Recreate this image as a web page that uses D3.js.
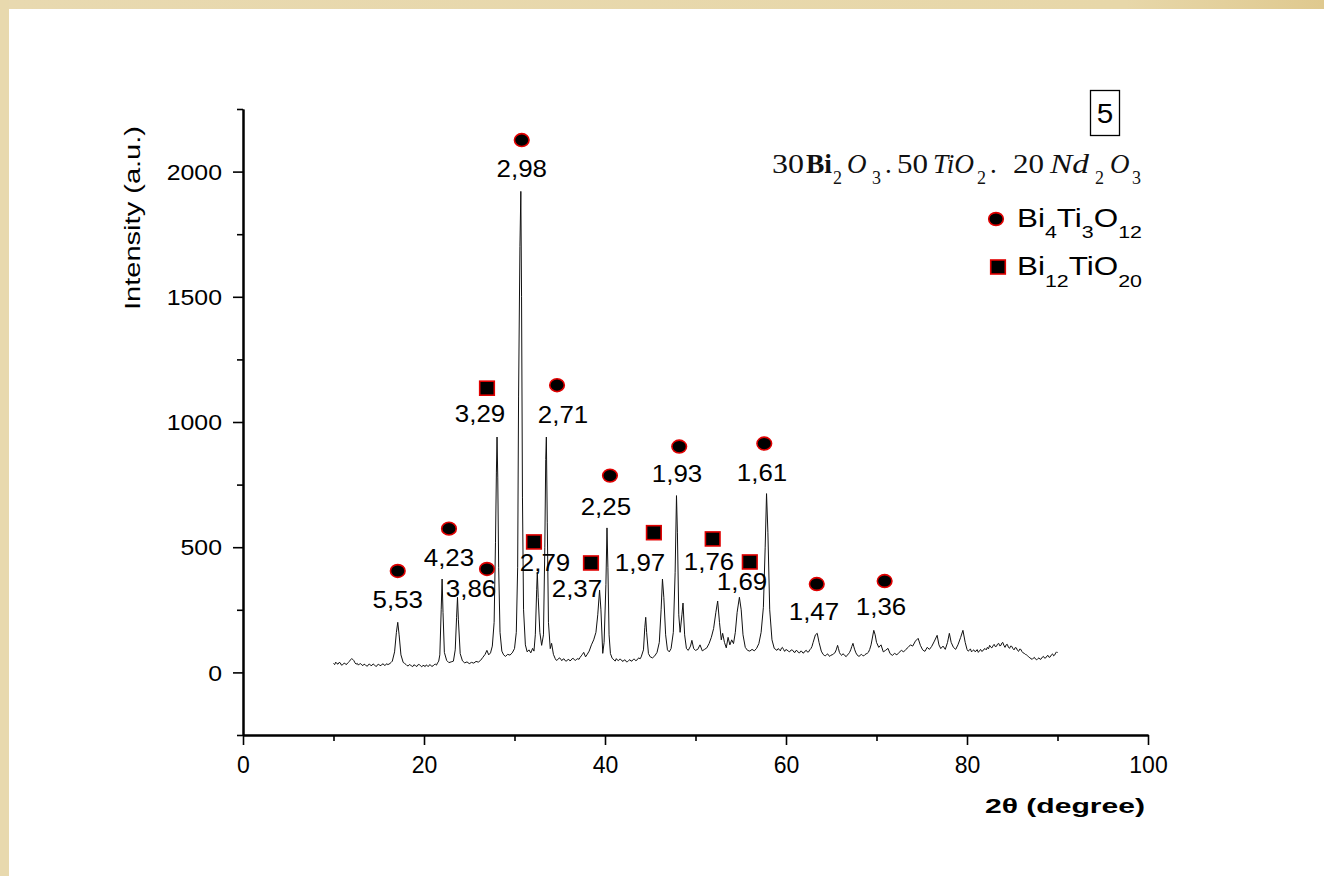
<!DOCTYPE html>
<html>
<head>
<meta charset="utf-8">
<script src="https://cdn.jsdelivr.net/npm/d3@7"></script>
<style>
  html, body { margin: 0; padding: 0; background: #ffffff; }
  svg { display: block; font-family: "Liberation Sans", Arial, sans-serif; }
</style>
</head>
<body>
<svg id="chart" width="1324" height="876"></svg>
<script>
// XRD pattern of the 30Bi2O3·50TiO2·20Nd2O3 sample: [2θ (deg), intensity (a.u.)]
const pattern = [
  [10.000,36],[10.125,31],[10.250,41],[10.375,35],[10.500,33],[10.625,40],[10.750,38],[10.875,29],
  [11.000,30],[11.125,36],[11.250,37],[11.375,31],[11.500,34],[11.625,39],[11.750,44],[11.875,50],
  [12.000,55],[12.125,52],[12.250,47],[12.375,38],[12.500,33],[12.625,36],[12.750,29],[12.875,34],
  [13.000,35],[13.125,30],[13.250,27],[13.375,33],[13.500,31],[13.625,26],[13.750,25],[13.875,32],
  [14.000,33],[14.125,27],[14.250,28],[14.375,34],[14.500,30],[14.625,26],[14.750,24],[14.875,31],
  [15.000,32],[15.125,28],[15.250,27],[15.375,33],[15.500,34],[15.625,28],[15.750,29],[15.875,35],
  [16.000,31],[16.125,33],[16.250,36],[16.375,40],[16.500,45],[16.750,82],[16.950,160],[17.100,200],
  [17.250,150],[17.450,70],[17.700,40],[17.850,36],
  [18.000,32],[18.125,27],[18.250,26],[18.375,31],[18.500,30],[18.625,25],[18.750,23],[18.875,30],
  [19.000,29],[19.125,24],[19.250,25],[19.375,32],[19.500,31],[19.625,26],[19.750,22],[19.875,28],
  [20.000,27],[20.125,23],[20.250,30],[20.375,26],[20.500,24],[20.625,31],[20.750,28],[20.875,24],
  [21.000,26],[21.125,31],[21.250,33],[21.375,29],[21.500,38],[21.625,45],
  [21.750,70],[21.900,250],[22.000,373],[22.100,240],[22.250,80],[22.500,48],[22.750,39],[23.000,42],
  [23.250,45],[23.450,90],[23.600,220],[23.700,300],[23.800,210],[24.000,75],[24.250,46],[24.500,38],
  [24.750,42],[25.000,35],[25.250,40],[25.500,37],[25.750,44],[26.000,41],[26.250,48],[26.500,60],
  [26.750,72],[26.950,88],[27.150,70],[27.350,78],[27.550,105],[27.750,200],[27.900,520],[28.000,800],
  [28.070,940],[28.150,780],[28.250,420],[28.400,160],[28.600,85],[28.800,70],[29.000,64],[29.250,72],
  [29.500,69],[29.750,78],[30.000,95],[30.200,160],[30.350,420],[30.450,1100],[30.600,1700],[30.700,1921],
  [30.780,1500],[30.880,700],[31.000,250],[31.200,110],[31.400,82],[31.600,90],[31.800,78],[32.000,96],
  [32.150,85],[32.300,150],[32.450,330],[32.520,401],[32.620,300],[32.800,160],[33.000,108],[33.200,150],
  [33.350,500],[33.450,850],[33.520,940],[33.620,600],[33.750,200],[33.950,95],[34.100,116],[34.300,72],
  [34.500,55],[34.625,48],[34.750,50],[34.875,56],[35.000,58],[35.125,51],[35.250,47],[35.375,54],
  [35.500,53],[35.625,46],[35.750,45],[35.875,51],[36.000,52],[36.125,46],[36.250,49],[36.375,55],
  [36.500,56],[36.625,50],[36.750,48],[36.875,53],[37.000,55],[37.125,52],[37.250,60],[37.375,66],
  [37.500,72],[37.650,80],[37.850,62],[38.000,70],
  [38.250,85],[38.500,110],[38.750,130],[39.000,160],[39.200,230],[39.400,329],[39.550,250],[39.750,76],
  [39.900,120],[40.100,350],[40.220,577],[40.320,420],[40.450,150],[40.600,75],[40.800,56],
  [41.000,50],[41.125,45],[41.250,55],[41.375,49],[41.500,47],[41.625,53],[41.750,52],[41.875,46],
  [42.000,44],[42.125,50],[42.250,49],[42.375,42],[42.500,43],[42.625,48],[42.750,51],[42.875,45],
  [43.000,46],[43.125,52],[43.250,53],[43.375,47],[43.500,48],[43.625,55],[43.750,58],[43.875,54],
  [44.000,62],[44.250,90],[44.400,180],[44.500,220],[44.600,160],
  [44.800,75],[45.000,62],[45.250,58],[45.500,66],[45.750,80],[46.000,120],[46.200,250],[46.350,373],
  [46.500,300],[46.700,150],[46.900,90],[47.100,82],[47.300,95],[47.550,160],[47.750,400],[47.900,706],
  [48.000,560],[48.150,230],[48.300,160],[48.500,230],[48.620,277],[48.800,150],[49.000,95],[49.200,88],
  [49.450,105],[49.600,128],[49.800,95],[50.000,88],[50.250,92],[50.500,110],[50.750,86],[51.000,92],
  [51.250,98],[51.500,115],[51.750,140],[52.000,175],[52.250,240],[52.450,285],[52.650,200],[52.850,130],
  [53.000,156],[53.200,120],[53.400,98],[53.600,140],[53.800,110],[54.000,130],[54.200,115],[54.400,160],
  [54.600,240],[54.850,300],[55.050,250],[55.250,150],[55.500,100],[55.750,88],[56.000,85],[56.250,92],
  [56.500,86],[56.750,96],[57.000,115],[57.250,160],[57.500,260],[57.700,500],[57.850,714],[58.000,560],
  [58.200,250],[58.450,130],[58.700,96],
  [59.000,88],[59.125,95],[59.250,92],[59.375,86],[59.500,97],[59.600,100],[59.725,92],[59.850,84],
  [59.975,91],[60.100,90],[60.250,85],[60.400,82],[60.575,90],[60.750,88],[60.875,81],[61.000,80],
  [61.125,88],[61.250,86],[61.375,79],[61.500,78],[61.625,85],[61.750,84],[61.875,77],[62.000,79],
  [62.125,86],[62.250,88],[62.375,81],[62.500,82],[62.625,90],[62.750,95],[62.875,104],
  [63.000,120],[63.250,150],[63.450,156],[63.650,120],[63.900,85],
  [64.100,72],[64.225,68],[64.350,66],[64.475,71],[64.600,74],[64.725,67],[64.850,64],[64.975,69],
  [65.100,70],[65.250,74],[65.400,78],[65.550,90],[65.700,108],[65.800,95],[65.900,80],[66.025,72],
  [66.150,68],[66.275,74],[66.400,72],[66.525,66],[66.650,63],[66.775,69],[66.900,74],[67.025,80],
  [67.150,90],[67.275,104],[67.400,116],[67.500,102],[67.600,90],[67.725,78],[67.850,70],[67.975,66],
  [68.100,64],[68.225,70],[68.350,72],[68.475,67],[68.600,66],[68.725,71],[68.850,74],[68.975,76],
  [69.100,80],[69.250,92],[69.400,110],[69.700,168],[69.850,150],[70.000,120],
  [70.250,100],[70.500,110],[70.750,82],[71.000,88],[71.270,96],[71.500,75],[71.750,68],[72.000,76],
  [72.250,70],[72.500,80],[72.750,88],[73.000,82],[73.250,92],[73.500,100],[73.750,110],[74.000,105],
  [74.300,125],[74.600,136],[74.850,108],[75.100,90],[75.350,84],[75.600,100],[75.850,92],[76.100,104],
  [76.400,125],[76.700,148],[76.900,110],[77.100,95],[77.350,105],[77.600,92],[77.850,120],[78.050,156],
  [78.250,120],[78.500,100],[78.750,92],[79.000,110],[79.300,140],[79.550,168],[79.800,120],
  [80.000,92],[80.125,85],[80.250,88],[80.375,94],[80.500,82],[80.625,87],[80.750,90],[80.875,83],
  [81.000,85],[81.125,91],[81.250,80],[81.375,86],[81.500,92],[81.625,84],[81.750,86],[81.875,93],
  [82.000,95],[82.125,90],[82.250,100],[82.375,94],[82.500,108],[82.625,101],[82.750,98],[82.875,106],
  [83.000,112],[83.125,103],[83.250,104],[83.375,113],[83.500,116],[83.625,106],[83.750,108],[83.850,117],
  [83.950,120],[84.075,108],[84.200,100],[84.325,110],[84.450,112],[84.575,101],[84.700,96],[84.825,105],
  [84.950,104],[85.075,95],[85.200,90],[85.325,99],[85.450,98],[85.575,88],[85.700,84],[85.825,93],
  [85.950,92],[86.075,83],[86.200,78],[86.325,76],[86.450,72],[86.575,70],[86.700,66],[86.825,62],
  [86.950,58],[87.075,55],[87.200,52],[87.325,57],[87.450,60],[87.575,53],[87.700,50],[87.825,55],
  [87.950,58],[88.075,52],[88.200,54],[88.325,61],[88.450,64],[88.575,57],[88.700,58],[88.825,65],
  [88.950,68],[89.075,60],[89.200,62],[89.325,70],[89.450,74],[89.575,66],[89.700,70],[89.800,78],
  [89.900,82],[90.000,78]
];

// Indexed reflections: d-spacing label, phase, marker (2θ, I) and label anchor (2θ, I)
const reflections = [
  { d: "5,53", phase: "BIT",  m: [17.10, 405],  l: [17.10, 257] },
  { d: "4,23", phase: "BIT",  m: [22.76, 574],  l: [22.76, 425] },
  { d: "3,86", phase: "BIT",  m: [26.96, 413],  l: [25.20, 301] },
  { d: "3,29", phase: "BTO",  m: [26.96, 1135], l: [26.19, 1000] },
  { d: "2,98", phase: "BIT",  m: [30.80, 2126], l: [30.80, 1978] },
  { d: "2,79", phase: "BTO",  m: [32.15, 521],  l: [33.37, 405] },
  { d: "2,71", phase: "BIT",  m: [34.70, 1147], l: [35.36, 995] },
  { d: "2,37", phase: "BTO",  m: [38.45, 437],  l: [36.90, 301] },
  { d: "2,25", phase: "BIT",  m: [40.55, 786],  l: [40.10, 630] },
  { d: "1,97", phase: "BTO",  m: [45.40, 558],  l: [43.87, 405] },
  { d: "1,93", phase: "BIT",  m: [48.20, 902],  l: [47.96, 762] },
  { d: "1,76", phase: "BTO",  m: [51.90, 533],  l: [51.49, 409] },
  { d: "1,69", phase: "BTO",  m: [56.00, 441],  l: [55.14, 329] },
  { d: "1,61", phase: "BIT",  m: [57.60, 914],  l: [57.35, 766] },
  { d: "1,47", phase: "BIT",  m: [63.40, 353],  l: [63.09, 209] },
  { d: "1,36", phase: "BIT",  m: [70.90, 365],  l: [70.50, 229] }
];

// Legend entries: phase key and formula split into [text, isSubscript]
const phases = [
  { key: "BIT", parts: [["Bi", false], ["4", true], ["Ti", false], ["3", true], ["O", false], ["12", true]] },
  { key: "BTO", parts: [["Bi", false], ["12", true], ["TiO", false], ["20", true]] }
];

const xDomain = [0, 100];
const yDomain = [-250, 2250];
const xMajor = [0, 20, 40, 60, 80, 100];
const xMinor = [10, 30, 50, 70, 90];
const yMajor = [0, 500, 1000, 1500, 2000];
const yMinor = [-250, 250, 750, 1250, 1750, 2250];

const SANS = "Liberation Sans, Arial, sans-serif";
const SERIF = "Liberation Serif, Times New Roman, serif";

const svg = d3.select("#chart");
const W = 1324, H = 876;

// page frame
const defs = svg.append("defs");
const grad = defs.append("linearGradient").attr("id", "frameTop")
  .attr("x1", "0").attr("x2", "1").attr("y1", "0").attr("y2", "0");
grad.append("stop").attr("offset", "0").attr("stop-color", "#e8d9b0");
grad.append("stop").attr("offset", "0.85").attr("stop-color", "#e7d7a9");
grad.append("stop").attr("offset", "1").attr("stop-color", "#dfc98f");
svg.append("rect").attr("width", W).attr("height", H).attr("fill", "#ffffff");
svg.append("rect").attr("x", 0).attr("y", 0).attr("width", W).attr("height", 9).attr("fill", "url(#frameTop)");
svg.append("rect").attr("x", 0).attr("y", 0).attr("width", 9).attr("height", H).attr("fill", "#e8d9ae");

const x = d3.scaleLinear().domain(xDomain).range([243, 1148]);
const y = d3.scaleLinear().domain(yDomain).range([735, 109]);

// diffraction trace
svg.append("path")
  .datum(pattern)
  .attr("fill", "none")
  .attr("stroke", "#111")
  .attr("stroke-width", 1)
  .attr("stroke-linejoin", "round")
  .attr("d", d3.line().x(d => x(d[0])).y(d => y(d[1])));

// axes
const axisY0 = 735, axisX0 = 243;
const gxMinor = svg.append("g").attr("transform", `translate(0,${axisY0})`)
  .call(d3.axisBottom(x).tickValues(xMinor).tickSize(6).tickSizeOuter(0).tickFormat(""));
const gx = svg.append("g").attr("transform", `translate(0,${axisY0})`)
  .call(d3.axisBottom(x).tickValues(xMajor).tickSize(10).tickSizeOuter(0).tickPadding(12).tickFormat(d3.format("d")));
const gyMinor = svg.append("g").attr("transform", `translate(${axisX0},0)`)
  .call(d3.axisLeft(y).tickValues(yMinor).tickSize(6).tickSizeOuter(0).tickFormat(""));
const gy = svg.append("g").attr("transform", `translate(${axisX0},0)`)
  .call(d3.axisLeft(y).tickValues(yMajor).tickSize(10).tickSizeOuter(0).tickPadding(11).tickFormat(d3.format("d")));

[gxMinor, gx, gyMinor, gy].forEach(g => {
  g.select(".domain").attr("stroke", "#000").attr("stroke-width", 2);
  g.selectAll(".tick line").attr("stroke", "#000").attr("stroke-width", 1.6);
});
gx.selectAll(".tick text")
  .attr("font-size", 23).attr("font-family", SANS).attr("fill", "#000");
gy.selectAll(".tick text")
  .attr("font-size", 22).attr("font-family", SANS)
  .attr("fill", "#000").attr("x", -21 / 1.13).attr("dy", "0.35em")
  .attr("transform", "scale(1.13,1)");

// axis titles
svg.append("text")
  .attr("transform", "translate(132,218) rotate(-90)")
  .attr("text-anchor", "middle").attr("dy", "0.35em")
  .attr("font-size", 22).attr("textLength", 184).attr("lengthAdjust", "spacingAndGlyphs")
  .text("Intensity (a.u.)");
svg.append("text")
  .attr("x", 1065).attr("y", 813)
  .attr("text-anchor", "middle")
  .attr("font-size", 20).attr("font-weight", "bold")
  .attr("textLength", 160).attr("lengthAdjust", "spacingAndGlyphs")
  .text("2θ (degree)");

// phase markers
function drawMarker(sel, phase, cx, cy) {
  if (phase === "BIT") {
    sel.append("ellipse").attr("cx", cx).attr("cy", cy).attr("rx", 7.3).attr("ry", 6.4)
      .attr("fill", "#000").attr("stroke", "#e00000").attr("stroke-width", 1.6);
  } else {
    sel.append("rect").attr("x", cx - 7.3).attr("y", cy - 7).attr("width", 14.6).attr("height", 14)
      .attr("fill", "#000").attr("stroke", "#e00000").attr("stroke-width", 1.6);
  }
}

const ann = svg.append("g");
reflections.forEach(r => {
  drawMarker(ann, r.phase, x(r.m[0]), y(r.m[1]));
  ann.append("text")
    .attr("transform", `translate(${x(r.l[0])},${y(r.l[1])}) scale(1.08,1)`)
    .attr("text-anchor", "middle")
    .attr("font-size", 24)
    .text(r.d);
});

// sample composition (serif, mixed upright/italic with subscripts)
const formulaPieces = [
  { t: "30", x0: 772, x1: 804, sub: false, it: false },
  { t: "Bi", x0: 806, x1: 832, sub: false, it: false, bold: true },
  { t: "2",  x0: 833, x1: 841, sub: true },
  { t: "O",  x0: 847, x1: 866, sub: false, it: true },
  { t: "3",  x0: 872, x1: 880, sub: true },
  { t: ".",  x0: 885, x1: 890, sub: false, it: false },
  { t: "50", x0: 897, x1: 928, sub: false, it: false },
  { t: "TiO", x0: 933, x1: 974, sub: false, it: true },
  { t: "2",  x0: 977, x1: 985, sub: true },
  { t: ".",  x0: 990, x1: 995, sub: false, it: false },
  { t: "20", x0: 1013, x1: 1044, sub: false, it: false },
  { t: "Nd", x0: 1050, x1: 1089, sub: false, it: true },
  { t: "2",  x0: 1095, x1: 1103, sub: true },
  { t: "O",  x0: 1110, x1: 1130, sub: false, it: true },
  { t: "3",  x0: 1132, x1: 1140, sub: true }
];
const fg = svg.append("g");
formulaPieces.forEach(p => {
  const t = fg.append("text")
    .attr("x", p.x0)
    .attr("y", p.sub ? 184 : 173)
    .attr("font-family", SERIF)
    .attr("font-size", p.sub ? 18 : 27)
    .attr("font-style", p.it ? "italic" : "normal")
    .attr("font-weight", p.bold ? "bold" : "normal")
    .attr("fill", "#111")
    .text(p.t);
  if (p.t.length > 1) t.attr("textLength", p.x1 - p.x0).attr("lengthAdjust", "spacingAndGlyphs");
});

// panel number box
svg.append("rect").attr("x", 1090.5).attr("y", 90.5).attr("width", 29).attr("height", 45)
  .attr("fill", "none").attr("stroke", "#000").attr("stroke-width", 1.3);
svg.append("text").attr("x", 1105).attr("y", 123).attr("text-anchor", "middle")
  .attr("font-size", 27).attr("transform", "translate(1105,0) scale(1.1,1) translate(-1105,0)")
  .text("5");

// legend
const legendRows = [219, 267];
phases.forEach((p, i) => {
  const cy = legendRows[i];
  drawMarker(svg, p.key, p.key === "BIT" ? 996 : 998, cy);
  const t = svg.append("text").attr("x", 1017).attr("y", cy + 8)
    .attr("font-size", 25)
    .attr("textLength", 125).attr("lengthAdjust", "spacingAndGlyphs");
  p.parts.forEach(([s, sub], j) => {
    const prevSub = j > 0 && p.parts[j - 1][1];
    const shift = i === 0 ? 11 : 12;
    t.append("tspan")
      .attr("font-size", sub ? 17 : 25)
      .attr("dy", sub ? shift : (prevSub ? -shift : 0))
      .text(s);
  });
});
</script>
</body>
</html>
